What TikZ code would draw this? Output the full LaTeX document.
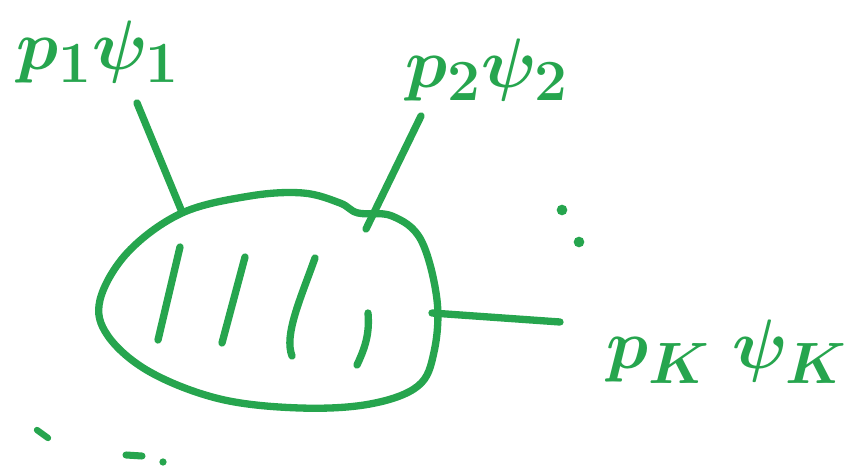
\documentclass[tikz,border=0pt]{standalone}
\usepackage{amsmath,amssymb}
\usepackage{graphicx}
\usepackage{tikz}
\usetikzlibrary{positioning}
\usepackage{xcolor}
\definecolor{markergreen}{RGB}{38, 165, 78}
\newcommand{\biglbl}[1]{\scalebox{2}{\Huge\boldmath$#1$}}

\begin{document}
\begin{tikzpicture}[x=0.025cm, y=-0.025cm,
    pen/.style={markergreen, line width=5.2pt, line cap=round, line join=round},
    lbl/.style={markergreen, inner sep=0pt}]
  \useasboundingbox (0,0) rectangle (861,471);

  % blob
  \draw[pen] plot[smooth cycle, tension=0.6] coordinates {
    (100,300) (128,252) (182,213) (250,196) (303,193) (340,203) (358,213)
    (392,216) (421,240) (437,300) (434,352) (418,386) (370,404) (300,408)
    (220,399) (150,372) (108,336)};

  % hatching
  \draw[pen] (180,247) -- (158,340);
  \draw[pen] (245,257) -- (222,343);
  \draw[pen] (315,258) .. controls (300,300) and (284,335) .. (292,356);
  \draw[pen] (368,313) .. controls (370,335) and (364,350) .. (357,365);

  % legs
  \coordinate (j1) at (182,212);
  \coordinate (j2) at (366,229);
  \coordinate (j3) at (432,313);
  \coordinate (e1) at (137,103);
  \coordinate (e2) at (421,116);
  \coordinate (e3) at (560,322);
  \draw[pen] (j1) -- (e1);
  \draw[pen] (j2) -- (e2);
  \draw[pen] (j3) -- (e3);

  % labels
  \node[lbl] (lab1) at (98,52) {\biglbl{p_1\psi_1}};
  \node[lbl] (lab2) at (487,70) {\biglbl{p_2\psi_2}};
  \node[lbl] (labk) at (727,352) {\biglbl{p_K\;\psi_K}};

  % dots
  \fill[markergreen] (562,210) circle (3.8pt);
  \fill[markergreen] (579,242) circle (3.8pt);
  \draw[pen, line width=4.5pt] (37,430) -- (48,438);
  \draw[pen, line width=5pt] (126,455) -- (142,456);
  \fill[markergreen] (163,462) circle (2.6pt);
\end{tikzpicture}
\end{document}
